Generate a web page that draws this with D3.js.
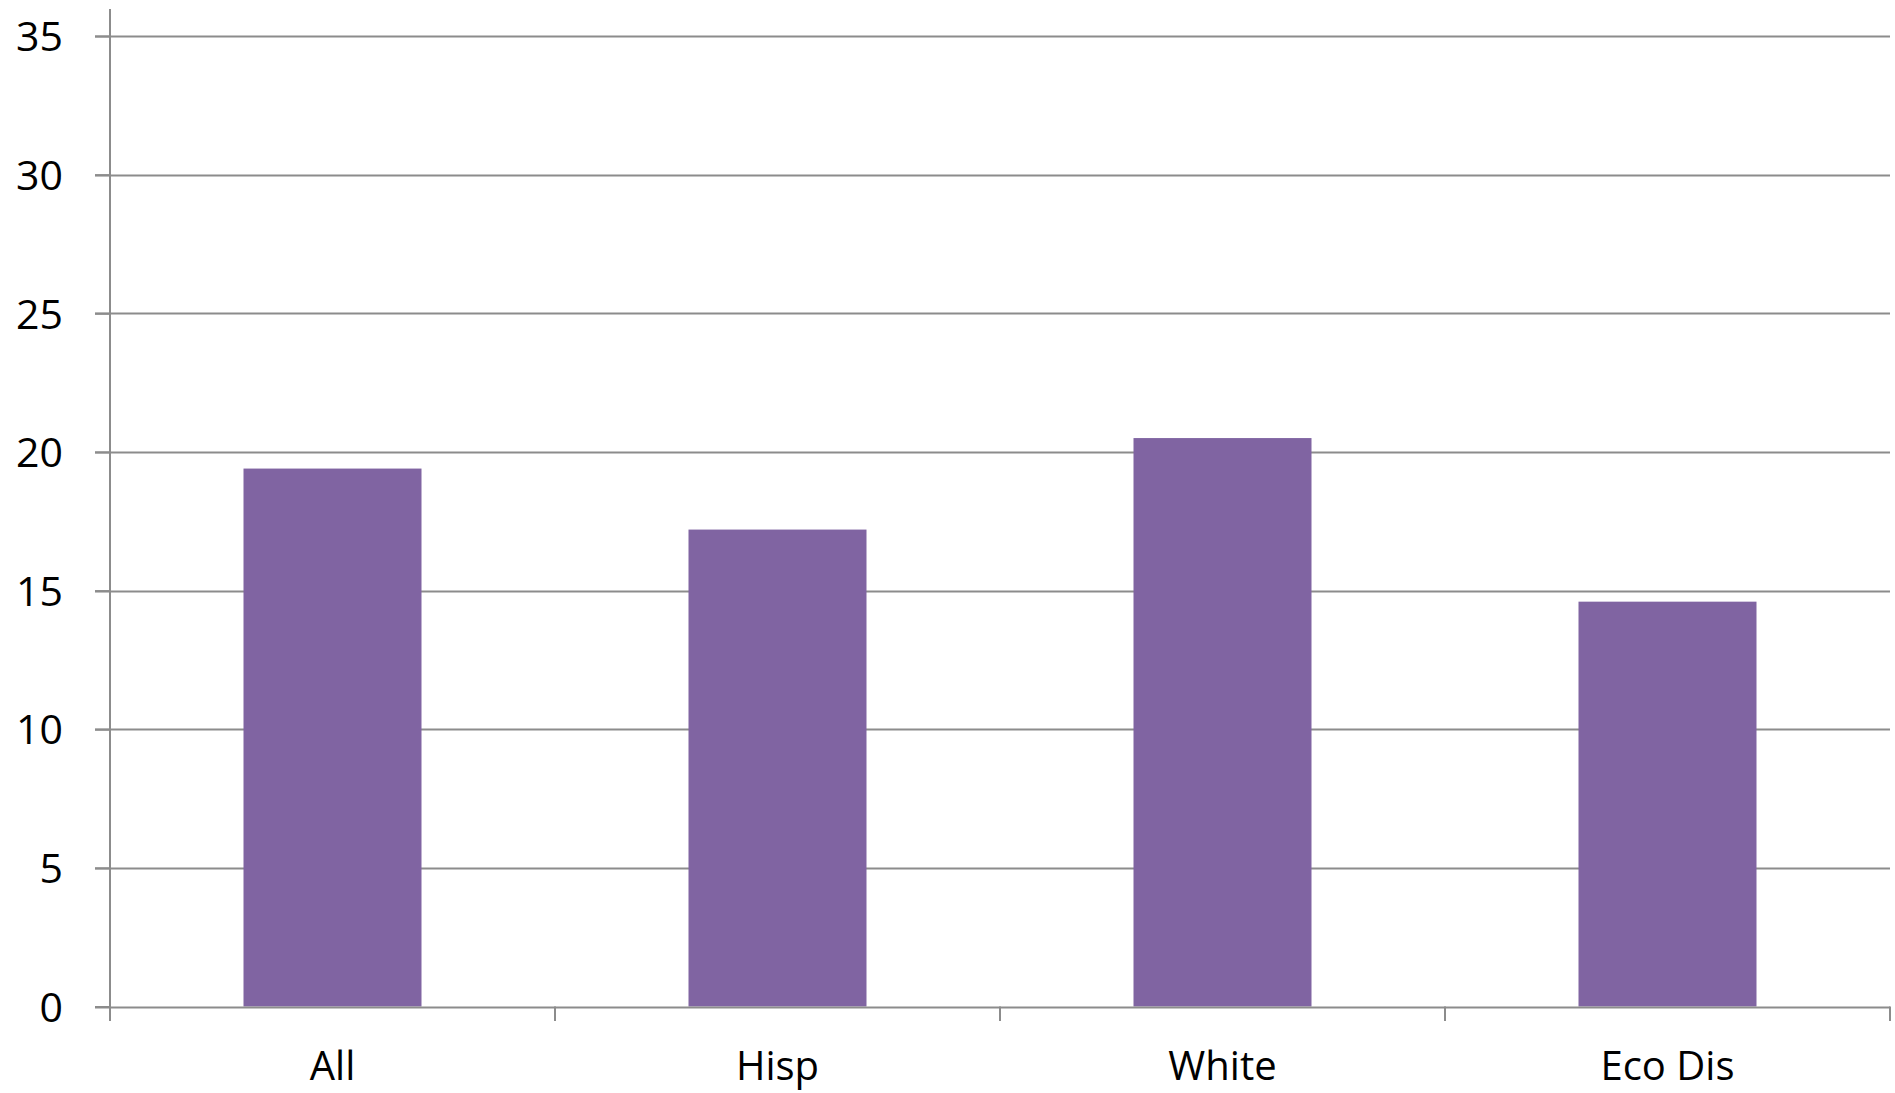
<!DOCTYPE html>
<html>
<head>
<meta charset="utf-8">
<script src="https://cdn.jsdelivr.net/npm/d3@7"></script>
<style>
  html, body { margin: 0; padding: 0; background: #ffffff; }
  svg { display: block; }
  text { font-family: "Open Sans", "Liberation Sans", sans-serif; fill: #000; }
</style>
</head>
<body>
<svg id="chart" width="1895" height="1093"></svg>
<script>
const categories = ["All", "Hisp", "White", "Eco Dis"];
const values = [19.4, 17.2, 20.5, 14.6];
const yTicks = [0, 5, 10, 15, 20, 25, 30, 35];

(function () {
const mLeft = 110, mRight = 1890, mTop = 36, mBottom = 1006.5;

const svg = d3.select("#chart");

const x = d3.scaleBand().domain(categories).range([mLeft, mRight]).paddingInner(0.6).paddingOuter(0.3);
const xb = d3.scaleBand().domain(categories).range([mLeft, mRight]);
const y = d3.scaleLinear().domain([0, 35]).range([mBottom, mTop]);

const gridColor = "#8c8c8c";

// gridlines
svg.append("g")
  .selectAll("line")
  .data(yTicks.filter(d => d > 0))
  .join("line")
  .attr("x1", mLeft - 15).attr("x2", mRight)
  .attr("y1", d => Math.round(y(d)) + 0.5).attr("y2", d => Math.round(y(d)) + 0.5)
  .attr("stroke", gridColor).attr("stroke-width", 2);

// bars
svg.append("g")
  .selectAll("rect")
  .data(categories)
  .join("rect")
  .attr("x", d => x(d))
  .attr("width", x.bandwidth())
  .attr("y", (d, i) => y(values[i]))
  .attr("height", (d, i) => y(0) - y(values[i]))
  .attr("fill", "#8064A2");

// y axis
const yAxis = d3.axisLeft(y).tickValues(yTicks).tickSize(15).tickPadding(32);
const gy = svg.append("g").attr("transform", `translate(${mLeft},0)`).call(yAxis);
gy.select(".domain").remove();
gy.selectAll(".tick line").attr("stroke", gridColor).attr("stroke-width", 2);
gy.selectAll(".tick text").attr("font-size", 41).attr("dy", "0.36em")
  .attr("font-family", "Open Sans").attr("fill", "#000");
svg.append("line")
  .attr("x1", mLeft).attr("x2", mLeft)
  .attr("y1", 9).attr("y2", 1021)
  .attr("stroke", gridColor).attr("stroke-width", 2);

// x axis
svg.append("line")
  .attr("x1", mLeft - 15).attr("x2", mRight)
  .attr("y1", Math.round(y(0)) + 0.5).attr("y2", Math.round(y(0)) + 0.5)
  .attr("stroke", gridColor).attr("stroke-width", 2);
svg.append("g")
  .selectAll("line")
  .data(categories)
  .join("line")
  .attr("x1", d => xb(d) + xb.bandwidth()).attr("x2", d => xb(d) + xb.bandwidth())
  .attr("y1", y(0)).attr("y2", 1021)
  .attr("stroke", gridColor).attr("stroke-width", 2);

svg.append("g")
  .selectAll("text")
  .data(categories)
  .join("text")
  .attr("x", d => xb(d) + xb.bandwidth() / 2)
  .attr("y", 1080)
  .attr("text-anchor", "middle")
  .attr("font-size", 40)
  .text(d => d);
})();
</script>
</body>
</html>
